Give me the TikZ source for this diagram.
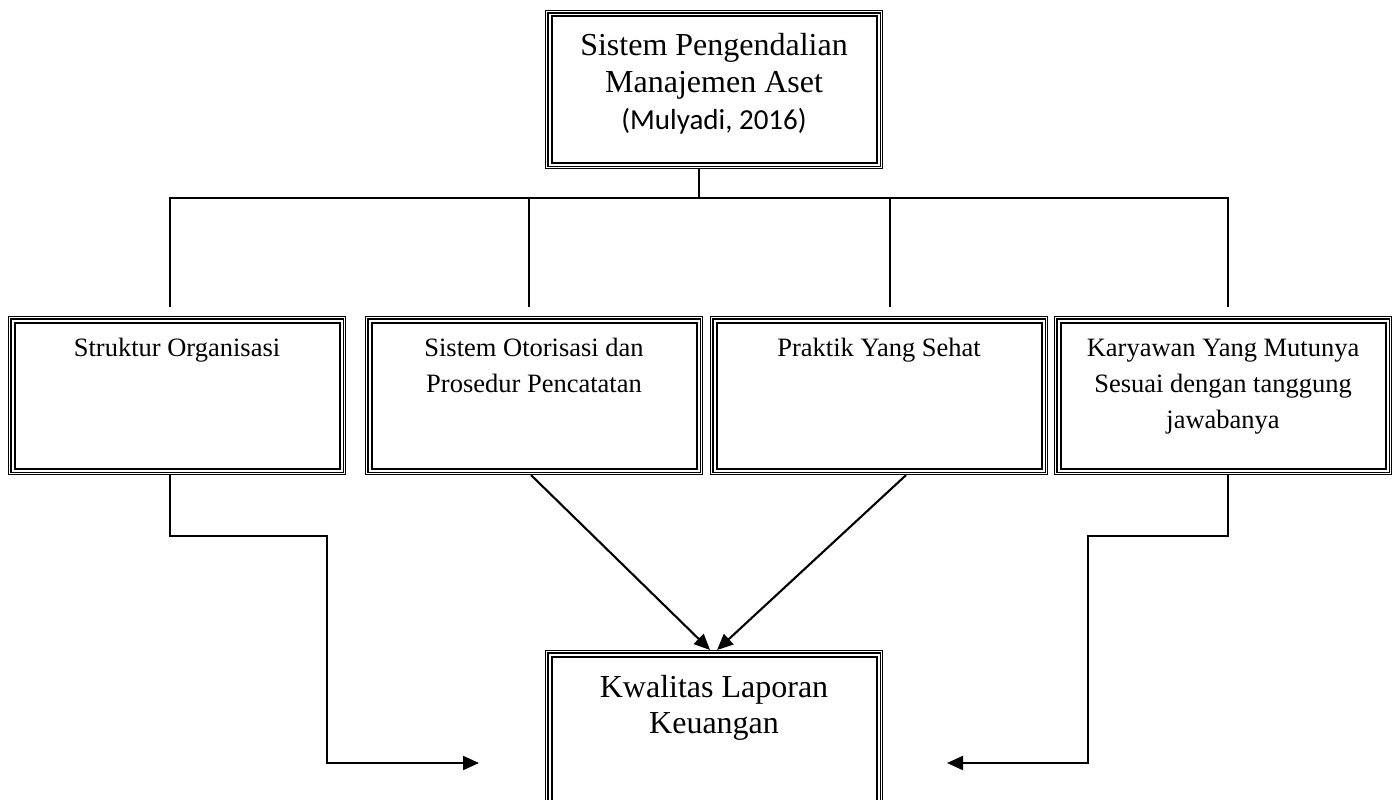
\documentclass[tikz,border=0pt]{standalone}
\usepackage{fontspec}
\setmainfont{Liberation Serif}
\newfontfamily\calfont{Carlito}
\usetikzlibrary{arrows.meta,calc}
\tikzset{
  tribox/.style={draw, line width=1.1pt, rectangle, inner sep=6pt, anchor=north west},
  conn/.style={line width=2.1pt},
  busline/.style={line width=1.6pt},
  arr/.style={conn, -{Triangle[length=16pt,width=14pt]}},
}
\newcommand\boxtext[3]{\begin{minipage}[c][146pt][t]{325pt}\centering\fontsize{#1}{#2}\selectfont #3\end{minipage}}
\begin{document}
\begin{tikzpicture}[x=1pt,y=-1pt]
\useasboundingbox[fill=white] (0,0) rectangle (1395,800);
% boxes
\node[tribox] (top) at (545,10) {\boxtext{32}{37}{\rule{0pt}{39pt}Sistem Pengendalian\\Manajemen Aset\\{\calfont\fontsize{29}{36}\selectfont (Mulyadi, 2016)}}};
\node[tribox] (b1) at (8,316) {\boxtext{26.5}{36}{\rule{0pt}{34pt}Struktur Organisasi}};
\node[tribox] (b2) at (365,316) {\boxtext{26.5}{36}{\rule{0pt}{34pt}Sistem Otorisasi dan\\Prosedur Pencatatan}};
\node[tribox] (b3) at (710,316) {\boxtext{26.5}{36}{\rule{0pt}{34pt}Praktik Yang Sehat}};
\node[tribox] (b4) at (1054,316) {\boxtext{26.5}{36}{\rule{0pt}{34pt}Karyawan Yang Mutunya\\Sesuai dengan tanggung\\jawabanya}};
\node[tribox] (bot) at (545,650) {\boxtext{32}{36}{\rule{0pt}{41pt}Kwalitas Laporan\\Keuangan}};
\foreach \n in {top,b1,b2,b3,b4,bot}{
  \draw[line width=1.1pt] ($(\n.north west)+(3,3)$) rectangle ($(\n.south east)+(-3,-3)$);
  \draw[line width=2pt] ($(\n.north west)+(6.5,6.5)$) rectangle ($(\n.south east)+(-6.5,-6.5)$);
}
% bus
\coordinate (bus) at (699,198);
\coordinate (d1) at (170,307);
\coordinate (d2) at (529,307);
\coordinate (d3) at (890,307);
\coordinate (d4) at (1228,307);
\draw[conn] (top.south -| bus) -- (bus);
\draw[busline] (d1) -- (d1 |- bus) -- (d4 |- bus) -- (d4);
\draw[busline] (d2) -- (d2 |- bus);
\draw[busline] (d3) -- (d3 |- bus);
% arrows to bottom
\coordinate (k1) at (327,536);
\coordinate (k4) at (1088,536);
\coordinate (t1) at (479,763);
\coordinate (t4) at (947,763);
\draw[arr] (b1.south -| d1) |- (k1) |- (t1);
\draw[arr] (b4.south -| d4) |- (k4) |- (t4);
\draw[arr] ($(b2.south)+(-3,0)$) -- ($(bot.north)+(-4,0)$);
\draw[arr] ($(b3.south)+(27,0)$) -- ($(bot.north)+(3,0)$);
\end{tikzpicture}
\end{document}
